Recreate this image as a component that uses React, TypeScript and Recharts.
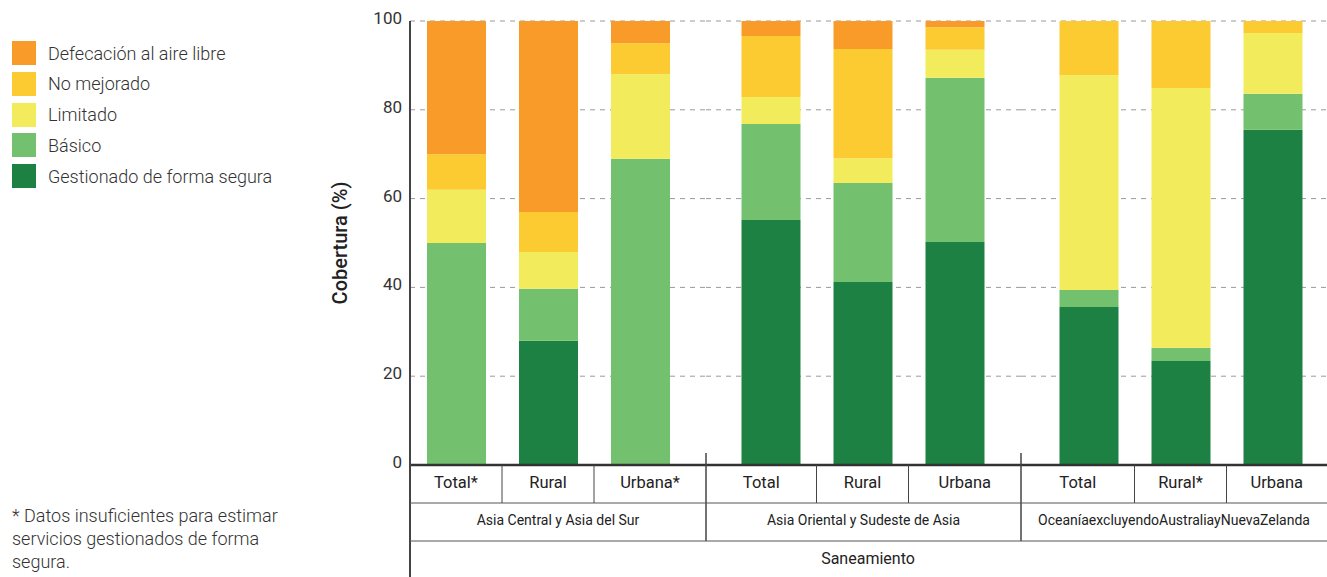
import { BarChart, Bar, XAxis, YAxis, CartesianGrid, Label } from "recharts";

const categories = ["Total*", "Rural", "Urbana*", "Total", "Rural", "Urbana", "Total", "Rural*", "Urbana"];
const regions = [
  "Asia Central y Asia del Sur",
  "Asia Oriental y Sudeste de Asia",
  "OceaníaexcluyendoAustraliayNuevaZelanda"
];
const sectorLabel = "Saneamiento";

const gestionado = [0, 28, 0, 55.2, 41.2, 50.2, 35.6, 23.4, 75.5];
const basico = [50, 11.7, 69, 21.6, 22.3, 37, 3.8, 3, 8.1];
const limitado = [12, 8.3, 19, 6.1, 5.6, 6.3, 48.4, 58.5, 13.7];
const noMejorado = [8, 9, 7, 13.7, 24.6, 5.1, 12.2, 15.1, 2.7];
const defecacion = [30, 43, 5, 3.4, 6.3, 1.4, 0, 0, 0];

const yTicks = [0, 20, 40, 60, 80, 100];

// stack order: bottom first
const series = [
  { key: "gestionado", name: "Gestionado de forma segura", color: "#1c8142", values: gestionado },
  { key: "basico", name: "Básico", color: "#73c16f", values: basico },
  { key: "limitado", name: "Limitado", color: "#f2ec5c", values: limitado },
  { key: "noMejorado", name: "No mejorado", color: "#fccb32", values: noMejorado },
  { key: "defecacion", name: "Defecación al aire libre", color: "#f89b28", values: defecacion }
];

const rows = categories.map((name, i) => {
  const row: Record<string, string | number> = { name };
  series.forEach((s) => {
    row[s.key] = s.values[i];
  });
  return row;
});

// layout
const FONT = "Roboto, 'Noto Sans', sans-serif";
const TOP = 21;
const AXIS_Y = 465;
const ROW1 = 503;
const ROW2 = 541;
const H = 577;
const BAND = 92;

const groups = [
  { left: 320, width: 386, yAxis: 90, pad: { left: 0, right: 20 } },
  { left: 706, width: 315, yAxis: 0, pad: { left: 18.5, right: 20.5 } },
  { left: 1021, width: 306, yAxis: 0, pad: { left: 21.5, right: 8.5 } }
];

// label sits in the middle of its table cell, the outer cells take the group padding
const CategoryTick = (props: any) => {
  const { x, payload, index, pad } = props;
  const cellLeft = x - BAND / 2 - (index === 0 ? pad.left : 0);
  const cellRight = x + BAND / 2 + (index === 2 ? pad.right : 0);
  return (
    <g>
      <text
        x={(cellLeft + cellRight) / 2}
        y={AXIS_Y + 23}
        textAnchor="middle"
        fontSize={16.5}
        fill="#222"
        fontFamily={FONT}
      >
        {payload.value}
      </text>
      {index < 2 && (
        <line x1={cellRight} x2={cellRight} y1={AXIS_Y} y2={ROW1} stroke="#444" strokeWidth={1} />
      )}
    </g>
  );
};

const GroupChart = ({ gi }: { gi: number }) => {
  const g = groups[gi];
  const data = rows.slice(gi * 3, gi * 3 + 3);
  return (
    <div style={{ position: "absolute", left: g.left, top: 0 }}>
      <BarChart
        width={g.width}
        height={H}
        data={data}
        margin={{ top: TOP, right: 0, bottom: 0, left: 0 }}
      >
        <CartesianGrid
          vertical={false}
          stroke="#9a9a9a"
          strokeDasharray="5 5"
          horizontalValues={yTicks}
        />
        <XAxis
          dataKey="name"
          interval={0}
          height={H - AXIS_Y}
          padding={g.pad}
          tickLine={false}
          axisLine={{ stroke: "#333", strokeWidth: 2.5 }}
          tick={(p: any) => <CategoryTick {...p} pad={g.pad} />}
        />
        <YAxis
          hide={g.yAxis === 0}
          width={g.yAxis}
          domain={[0, 100]}
          ticks={yTicks}
          tickLine={false}
          axisLine={{ stroke: "#444", strokeWidth: 2 }}
          tick={{ fontSize: 17, fill: "#333", fontFamily: FONT, dy: -3 }}
        >
          {g.yAxis > 0 && (
            <Label
              value="Cobertura (%)"
              angle={-90}
              position="insideLeft"
              offset={20}
              style={{ textAnchor: "middle", fontSize: 20, fontWeight: 500, fill: "#222", fontFamily: FONT }}
            />
          )}
        </YAxis>
        {series.map((s) => (
          <Bar
            key={s.key}
            dataKey={s.key}
            name={s.name}
            stackId="a"
            fill={s.color}
            barSize={59}
            isAnimationActive={false}
          />
        ))}
      </BarChart>
    </div>
  );
};

const Table = () => {
  const gx = [410, 706, 1021, 1327];
  return (
    <svg
      width={1327}
      height={H}
      style={{ position: "absolute", left: 0, top: 0, pointerEvents: "none" }}
    >
      <line x1={410} x2={410} y1={453} y2={H} stroke="#444" strokeWidth={2} />
      <line x1={706} x2={706} y1={453} y2={ROW2} stroke="#444" strokeWidth={1.5} />
      <line x1={1021} x2={1021} y1={453} y2={ROW2} stroke="#444" strokeWidth={1.5} />
      <line x1={410} x2={1327} y1={ROW1} y2={ROW1} stroke="#555" strokeWidth={1} />
      <line x1={410} x2={1327} y1={ROW2} y2={ROW2} stroke="#555" strokeWidth={1} />
      {regions.map((r, i) => (
        <text
          key={r}
          x={(gx[i] + gx[i + 1]) / 2}
          y={ROW1 + 22}
          textAnchor="middle"
          fontSize={14}
          fill="#222"
          fontFamily={FONT}
        >
          {r}
        </text>
      ))}
      <text x={868} y={ROW2 + 23} textAnchor="middle" fontSize={16} fill="#222" fontFamily={FONT}>
        {sectorLabel}
      </text>
    </svg>
  );
};

const LegendBox = () => (
  <div style={{ position: "absolute", left: 12, top: 41 }}>
    {[...series].reverse().map((s) => (
      <div key={s.key} style={{ display: "flex", alignItems: "center", height: 24, marginBottom: 6.8 }}>
        <div style={{ width: 24, height: 24, background: s.color, marginRight: 12 }} />
        <span style={{ fontSize: 18, fontWeight: 300, color: "#333", whiteSpace: "nowrap" }}>{s.name}</span>
      </div>
    ))}
  </div>
);

export default function App() {
  return (
    <div
      style={{
        position: "absolute",
        left: 0,
        top: 0,
        width: 1327,
        height: H,
        background: "#fff",
        fontFamily: FONT,
        overflow: "hidden"
      }}
    >
      <LegendBox />
      <GroupChart gi={0} />
      <GroupChart gi={1} />
      <GroupChart gi={2} />
      <Table />
      <div
        style={{
          position: "absolute",
          left: 12,
          top: 504,
          fontSize: 18,
          fontWeight: 300,
          color: "#333",
          lineHeight: "23px",
          width: 300
        }}
      >
        * Datos insuficientes para estimar
        <br />
        servicios gestionados de forma
        <br />
        segura.
      </div>
    </div>
  );
}
